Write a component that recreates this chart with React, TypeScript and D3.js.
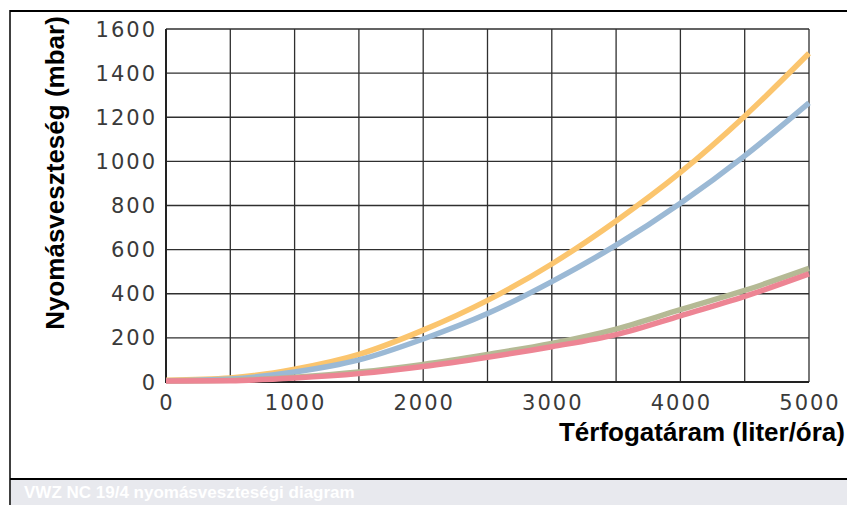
import { useRef, useEffect } from 'react';
import * as d3 from 'd3';

// Flow rate in liter/hour
const FLOW = [0, 500, 1000, 1500, 2000, 2500, 3000, 3500, 4000, 4500, 5000];

// Pressure loss in mbar
const ORANGE = [8, 18, 58, 125, 235, 370, 535, 730, 950, 1205, 1490];
const BLUE = [6, 14, 45, 100, 195, 310, 455, 620, 810, 1025, 1265];
const GREEN = [5, 8, 22, 45, 80, 125, 175, 240, 328, 415, 515];
const PINK = [4, 6, 18, 38, 70, 112, 160, 215, 300, 388, 490];

const SERIES = [
  { name: 'orange', values: ORANGE, color: '#fbc56e' },
  { name: 'blue', values: BLUE, color: '#9bb9d5' },
  { name: 'green', values: GREEN, color: '#b5ba95' },
  { name: 'pink', values: PINK, color: '#ed8594' },
];

const X_TICKS = [0, 1000, 2000, 3000, 4000, 5000];
const Y_TICKS = [0, 200, 400, 600, 800, 1000, 1200, 1400, 1600];

export default function App() {
  const ref = useRef<SVGSVGElement>(null);

  useEffect(() => {
    const svg = ref.current;
    if (!svg) return;
    const W = 847, H = 505;
    const left = 166, right = 809, top = 29, bottom = 382;

    d3.select(svg).selectAll('*').remove();
    const g = d3.select(svg).attr('width', W).attr('height', H).append('g');

    g.append('rect').attr('width', W).attr('height', H).attr('fill', '#fff');

    const x = d3.scaleLinear().domain([0, 5000]).range([left, right]);
    const y = d3.scaleLinear().domain([0, 1600]).range([bottom, top]);

    // Grid
    d3.range(0, 5001, 500).forEach((v) => {
      g.append('line').attr('x1', x(v)).attr('x2', x(v)).attr('y1', top).attr('y2', bottom)
        .attr('stroke', '#2f2f2f').attr('stroke-width', 1.3);
    });
    Y_TICKS.forEach((v) => {
      g.append('line').attr('x1', left).attr('x2', right).attr('y1', y(v)).attr('y2', y(v))
        .attr('stroke', '#2f2f2f').attr('stroke-width', 1.3);
    });
    // axis lines
    g.append('line').attr('x1', left).attr('x2', left).attr('y1', top).attr('y2', bottom + 1)
      .attr('stroke', '#222').attr('stroke-width', 2);
    g.append('line').attr('x1', left).attr('x2', right).attr('y1', bottom).attr('y2', bottom)
      .attr('stroke', '#222').attr('stroke-width', 2);

    // Curves
    const line = d3.line<number>()
      .x((_, i) => x(FLOW[i]))
      .y((d) => y(d))
      .curve(d3.curveMonotoneX);
    SERIES.forEach((s) => {
      g.append('path').attr('d', line(s.values)!).attr('fill', 'none')
        .attr('stroke', s.color).attr('stroke-width', 5.5).attr('stroke-linecap', 'butt');
    });

    // Tick labels
    const tickFont = '"DejaVu Sans", sans-serif';
    Y_TICKS.forEach((v) => {
      g.append('text').attr('x', 157).attr('y', y(v) + 7.5).attr('text-anchor', 'end')
        .attr('font-family', tickFont).attr('font-size', 21).attr('letter-spacing', 2)
        .attr('fill', '#3a3a3a').text(v);
    });
    X_TICKS.forEach((v) => {
      g.append('text').attr('x', x(v) + 1).attr('y', 410).attr('text-anchor', 'middle')
        .attr('font-family', tickFont).attr('font-size', 21).attr('letter-spacing', 2)
        .attr('fill', '#3a3a3a').text(v);
    });

    // Axis titles
    g.append('text').attr('x', 845).attr('y', 441).attr('text-anchor', 'end')
      .attr('font-family', '"Liberation Sans", Arial, sans-serif').attr('font-weight', 'bold')
      .attr('font-size', 26).attr('fill', '#000').text('Térfogatáram (liter/óra)');
    g.append('text').attr('transform', 'translate(64,173) rotate(-90)').attr('text-anchor', 'middle')
      .attr('font-family', '"Liberation Sans", Arial, sans-serif').attr('font-weight', 'bold')
      .attr('font-size', 26).attr('fill', '#000').text('Nyomásveszteség (mbar)');

    // Frame
    g.append('line').attr('x1', 10).attr('x2', W).attr('y1', 11).attr('y2', 11)
      .attr('stroke', '#000').attr('stroke-width', 2);
    g.append('line').attr('x1', 10).attr('x2', 10).attr('y1', 10).attr('y2', H)
      .attr('stroke', '#000').attr('stroke-width', 1.5);

    // Caption band
    g.append('rect').attr('x', 11).attr('y', 480).attr('width', W - 11).attr('height', H - 480)
      .attr('fill', '#e8e9ee');
    g.append('line').attr('x1', 10).attr('x2', W).attr('y1', 479).attr('y2', 479)
      .attr('stroke', '#000').attr('stroke-width', 2);
    g.append('text').attr('x', 24).attr('y', 498)
      .attr('font-family', '"Liberation Sans", Arial, sans-serif').attr('font-weight', 'bold')
      .attr('font-size', 17).attr('fill', '#fff').text('VWZ NC 19/4 nyomásveszteségi diagram');
  }, []);

  return <svg ref={ref} style={{ position: 'absolute', left: 0, top: 0, display: 'block' }} />;
}
